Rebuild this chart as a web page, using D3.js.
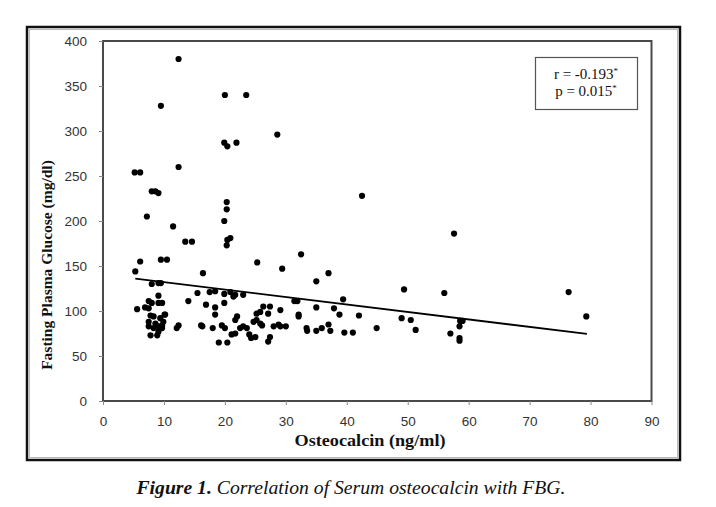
<!DOCTYPE html>
<html><head><meta charset="utf-8">
<script src="https://cdn.jsdelivr.net/npm/d3@7"></script>
<style>body{margin:0;background:#fff}svg{display:block}</style>
</head><body>
<svg id="c" width="716" height="507"></svg>
<script>
// Osteocalcin (ng/ml)
const osteocalcin = [
 12.4,20.0,23.5,9.5,28.6,19.9,20.4,21.9,12.4,
 5.2,6.1,8.0,8.6,9.1,7.2,20.3,20.3,19.9,11.5,13.5,14.6,20.9,20.4,20.3,6.1,9.5,10.5,5.3,16.4,25.3,29.4,8.0,9.1,9.5,
 42.5,57.6,32.5,35.0,37.0,49.4,56.0,76.4,79.3,
 5.6,7.5,8.0,9.1,9.7,9.1,6.9,7.5,10.1,14.0,7.8,8.3,9.4,10.2,7.5,8.6,9.7,9.9,7.5,8.3,9.1,9.7,12.4,12.1,7.8,8.9,9.1,
 15.5,17.5,18.4,19.9,20.9,21.4,21.7,23.0,16.9,18.4,18.4,19.9,22.0,21.7,16.1,16.3,18.0,19.5,20.0,21.1,21.7,22.5,23.0,23.6,24.0,24.3,25.0,24.7,25.2,25.8,26.1,25.2,25.8,26.3,27.4,27.1,29.1,28.0,28.8,29.1,30.0,27.4,27.1,19.0,20.4,
 31.4,31.9,39.4,35.0,37.9,32.1,32.1,38.8,42.0,33.4,33.5,35.0,35.9,37.0,37.3,39.6,41.0,44.9,
 58.6,59.0,58.5,57.0,58.5,58.5,49.0,50.5,51.3
];
// Fasting plasma glucose (mg/dl)
const glucose = [
 380,340,340,328,296,287,283,287,260,
 254,254,233,233,231,205,221,213,200,194,177,177,181,179,173,155,157,157,144,142,154,147,130,131,131,
 228,186,163,133,142,124,120,121,94,
 102,111,109,109,109,117,104,103,96,111,95,94,92,96,88,86,84,88,83,81,83,81,84,81,73,73,77,
 120,121,122,119,121,116,118,118,107,104,96,109,94,90,84,83,81,84,81,74,75,81,83,81,74,70,71,88,90,86,84,97,99,105,105,97,101,83,85,83,83,71,66,65,65,
 111,111,113,104,103,96,94,96,95,81,78,78,81,85,78,76,76,81,
 89,89,83,75,70,67,92,90,79
];
// regression line endpoints
const trendX = [5.3, 79.4];
const trendY = [136, 74.5];
const xTicks = [0,10,20,30,40,50,60,70,80,90];
const yTicks = [0,50,100,150,200,250,300,350,400];
const statLines = ["r = -0.193", "p = 0.015"];

const svg = d3.select("#c");
const L = 103, R = 651.5, T = 41, B = 401;
const x = d3.scaleLinear().domain([0,90]).range([L,R]);
const y = d3.scaleLinear().domain([0,400]).range([B,T]);

// outer frame
svg.append("rect").attr("x",27).attr("y",27).attr("width",653).attr("height",433)
  .attr("fill","none").attr("stroke","#111").attr("stroke-width",2.5);
svg.append("rect").attr("x",29.5).attr("y",29.5).attr("width",648).attr("height",428)
  .attr("fill","none").attr("stroke","#bbb").attr("stroke-width",1);

// plot frame
svg.append("rect").attr("x",L).attr("y",T).attr("width",R-L).attr("height",B-T)
  .attr("fill","none").attr("stroke","#4a4a4a").attr("stroke-width",2);

const xa = svg.append("g").attr("transform",`translate(0,${B})`)
  .call(d3.axisBottom(x).tickValues(xTicks).tickSize(4).tickPadding(11).tickFormat(d3.format("d")));
const ya = svg.append("g").attr("transform",`translate(${L},0)`)
  .call(d3.axisLeft(y).tickValues(yTicks).tickSize(4).tickPadding(12).tickFormat(d3.format("d")));
[xa,ya].forEach(a=>{
  a.select(".domain").remove();
  a.selectAll(".tick line").attr("stroke","#888");
  a.selectAll("text").attr("fill","#333").style("font-family","Liberation Sans, Arial, sans-serif").style("font-size","13.5px");
});

// points
const pts = osteocalcin.map((v,i)=>[v,glucose[i]]);
svg.append("g").selectAll("circle").data(pts).join("circle")
  .attr("cx",d=>x(d[0])).attr("cy",d=>y(d[1])).attr("r",3.1).attr("fill","#000");

// trend line
svg.append("path").datum(trendX.map((v,i)=>[v,trendY[i]]))
  .attr("d",d3.line().x(d=>x(d[0])).y(d=>y(d[1])))
  .attr("stroke","#000").attr("stroke-width",1.8).attr("fill","none");

// stats box
svg.append("rect").attr("x",535.5).attr("y",57.5).attr("width",102).attr("height",52)
  .attr("fill","#fff").attr("stroke","#555").attr("stroke-width",1.2);
statLines.forEach((s,i)=>{
  const t = svg.append("text").attr("x",586).attr("y",79+i*17).attr("text-anchor","middle")
    .style("font-family","Liberation Serif, Times New Roman, serif").style("font-size","15px").attr("fill","#111");
  t.append("tspan").text(s);
  t.append("tspan").text("*").attr("dy",-5).style("font-size","9px");
});

// axis titles
svg.append("text").attr("x",370).attr("y",446).attr("text-anchor","middle")
  .attr("textLength",151).attr("lengthAdjust","spacingAndGlyphs")
  .style("font-family","Liberation Serif, Times New Roman, serif").style("font-weight","bold").style("font-size","16.5px")
  .attr("fill","#111").text("Osteocalcin (ng/ml)");
svg.append("text").attr("transform","translate(52,265) rotate(-90)").attr("text-anchor","middle")
  .style("font-family","Liberation Serif, Times New Roman, serif").style("font-weight","bold").style("font-size","15.5px")
  .attr("fill","#111").text("Fasting Plasma Glucose (mg/dl)");

// caption
const cap = svg.append("text").attr("x",351).attr("y",494).attr("text-anchor","middle")
  .attr("textLength",429).attr("lengthAdjust","spacingAndGlyphs")
  .style("font-family","Liberation Serif, Times New Roman, serif").style("font-size","18.5px").style("font-style","italic").attr("fill","#111");
cap.append("tspan").style("font-weight","bold").text("Figure 1. ");
cap.append("tspan").text("Correlation of Serum osteocalcin with FBG.");
</script>
</body></html>
